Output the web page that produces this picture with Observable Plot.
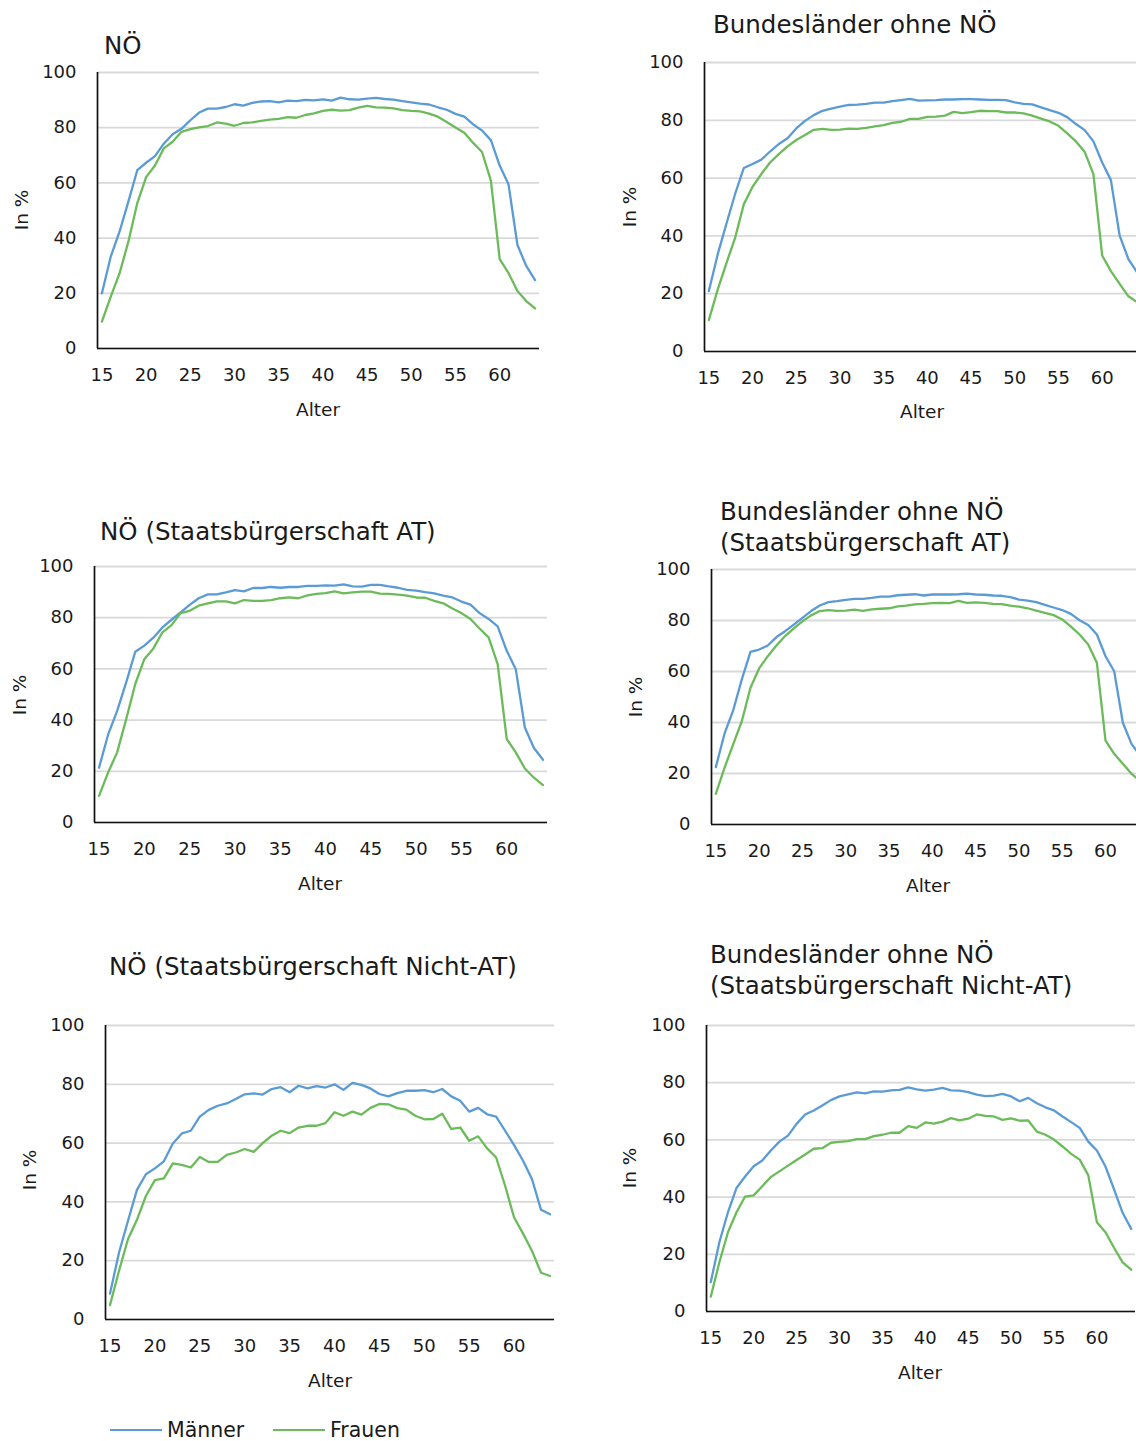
<!DOCTYPE html>
<html><head><meta charset="utf-8">
<script src="https://cdn.jsdelivr.net/npm/d3@7"></script>
<script src="https://cdn.jsdelivr.net/npm/@observablehq/plot@0.6"></script>
<style>
html,body{margin:0;padding:0;background:#fff;overflow:hidden;}
#root{position:relative;width:1136px;height:1441px;overflow:hidden;font-family:"DejaVu Sans",sans-serif;color:#1a1a1a;}
.t{position:absolute;white-space:nowrap;line-height:1;}
.panel{position:absolute;}
</style></head><body><div id="root"></div>
<script>
// ---- data ----
const ages = [15,16,17,18,19,20,21,22,23,24,25,26,27,28,29,30,31,32,33,34,35,36,37,38,39,40,41,42,43,44,45,46,47,48,49,50,51,52,53,54,55,56,57,58,59,60,61,62,63,64];
const seriesNames = ["Männer","Frauen"];
const seriesColors = ["#5B9BD5","#6CBB5A"];
const yTicks = [0,20,40,60,80,100];
const xTicks = [15,20,25,30,35,40,45,50,55,60];

const noeM = [20,33.3,42.4,53.3,64.6,67.3,69.7,74.2,77.6,79.6,82.7,85.5,86.9,86.9,87.5,88.5,88,89,89.5,89.6,89.2,89.8,89.6,90.1,89.9,90.3,89.8,90.9,90.3,90.2,90.5,90.8,90.4,90.2,89.6,89.2,88.7,88.4,87.4,86.5,85,84,81.2,79,75.5,66.3,59.4,37.6,29.9,24.8];
const noeF = [9.7,18.8,27.3,38.8,52.7,62.1,66.3,72.5,74.9,78.5,79.5,80.1,80.6,81.9,81.5,80.7,81.7,81.9,82.5,82.9,83.2,83.8,83.6,84.6,85.2,86.1,86.5,86.2,86.4,87.3,87.9,87.4,87.3,87,86.4,86.1,85.9,85.1,84,82.1,80.1,78.2,74.5,71.2,60.8,32.4,27.3,20.8,17.2,14.5];

const blM = [20.9,33.5,44.1,54.5,63.5,64.9,66.4,69.2,71.8,73.8,77.2,79.8,81.8,83.3,84,84.7,85.3,85.4,85.7,86.1,86.1,86.6,87,87.4,86.8,86.9,87,87.2,87.2,87.3,87.3,87.2,87.1,87.1,87,86.2,85.7,85.5,84.5,83.5,82.6,81.1,78.7,76.6,72.7,65.4,59.3,40.1,32,27.4];
const blF = [10.9,21.3,30.5,39.3,51,57,61.4,65.4,68.3,71,73.2,74.9,76.7,77,76.7,76.8,77.1,77,77.4,77.9,78.3,79.1,79.5,80.5,80.5,81.2,81.3,81.6,82.9,82.5,82.8,83.3,83.2,83.2,82.7,82.7,82.4,81.6,80.6,79.6,78.1,75.5,72.7,69.1,61.4,33.2,27.8,23.4,19.1,17.1];

const noeAtM = [21.4,34.3,43.6,54.7,66.7,69.1,72.2,76.2,79.2,82.1,85,87.6,89.1,89.1,89.9,90.8,90.3,91.6,91.6,92,91.7,92,92,92.4,92.4,92.6,92.5,93,92.2,92.1,92.8,92.8,92.2,91.7,90.9,90.6,90,89.5,88.6,87.9,86.3,85.1,81.8,79.5,76.6,67.1,59.9,37.1,29.1,24.5];
const noeAtF = [10.4,19.5,27.4,40.4,54.1,63.8,68,74.3,77.1,81.8,82.7,84.7,85.6,86.4,86.4,85.6,86.9,86.6,86.6,86.9,87.6,87.9,87.6,88.7,89.3,89.6,90.3,89.5,89.9,90.2,90.2,89.4,89.3,89,88.6,87.9,87.8,86.6,85.6,83.6,81.8,79.5,75.8,72.3,61.9,32.6,27.4,21.1,17.5,14.6];

const blAtM = [22.5,35.6,44.7,56.9,67.7,68.6,70.2,73.5,75.8,78.4,81,83.7,85.9,87.2,87.6,88.1,88.5,88.5,88.9,89.4,89.4,89.9,90.1,90.3,89.8,90.2,90.2,90.2,90.3,90.5,90.2,90.1,89.8,89.7,89.2,88.2,87.8,87.2,86.1,85.1,84.1,82.6,80.1,78.2,74.5,66,60.1,39.9,31.6,27];
const blAtF = [12,22.2,31.4,40.5,53.6,61.2,66,70.2,73.9,76.9,79.7,82,83.7,84.1,83.8,83.9,84.3,83.8,84.4,84.6,84.8,85.5,85.8,86.3,86.5,86.8,86.9,86.8,87.7,86.9,87.1,86.9,86.5,86.4,85.8,85.4,84.8,83.9,83,82.1,80.4,77.6,74.5,70.6,63.4,32.9,27.7,23.8,19.9,17];

const noeNatM = [8.8,22.7,33.5,44.1,49.4,51.4,53.8,59.9,63.3,64.2,69,71.3,72.7,73.5,75,76.6,76.9,76.5,78.4,79,77.3,79.5,78.6,79.4,78.9,80,78.1,80.5,79.8,78.6,76.7,75.9,77,77.8,77.8,78,77.3,78.4,75.9,74.4,70.7,72,69.8,69,64.2,59.3,54,47.7,37.3,35.8];
const noeNatF = [4.9,16.5,27.3,33.9,42,47.4,48,53.1,52.6,51.7,55.3,53.6,53.6,56,56.8,58,57,60,62.5,64.2,63.4,65.3,65.9,65.9,66.8,70.5,69.3,70.7,69.7,72,73.3,73.2,71.9,71.4,69.3,68.1,68.2,70,64.8,65.3,60.8,62.3,58.2,55.1,45.5,34.7,29.2,23.3,15.9,14.8];

const blNatM = [10.3,24.2,34.7,43.2,47.2,50.8,52.8,56.3,59.4,61.5,65.6,68.9,70.3,72,73.9,75.2,75.9,76.6,76.3,77,76.9,77.3,77.5,78.4,77.7,77.2,77.6,78.2,77.3,77.2,76.7,75.8,75.3,75.5,76.1,75.2,73.5,74.7,72.8,71.4,70.3,68.2,66.2,64.2,59.4,56.3,50.7,42.7,34.5,28.9];
const blNatF = [5.2,17.2,27.7,34.7,40.2,40.6,43.8,47,49,51,53,54.9,56.9,57.1,59,59.3,59.6,60.3,60.3,61.3,61.8,62.5,62.5,64.8,64.2,66.1,65.7,66.4,67.6,66.8,67.4,68.9,68.4,68.2,67,67.5,66.7,66.8,62.9,61.8,60.1,57.7,55.1,53.1,47.6,31.2,27.7,22.3,17.2,14.6];

// ---- layout ----
const root = document.getElementById("root");
const FONT = '"DejaVu Sans", sans-serif';
const xDomain = [14.5, 64.5];

function text(str, {left, cx, cy, size, rotate = false}) {
  const d = document.createElement("div");
  d.className = "t";
  d.textContent = str;
  d.style.fontSize = size + "px";
  if (rotate) {
    d.style.left = cx + "px"; d.style.top = cy + "px";
    d.style.transform = "translate(-50%,-50%) rotate(-90deg)";
  } else if (left != null) {
    d.style.left = left + "px"; d.style.top = cy + "px";
    d.style.transform = "translateY(-50%)";
  } else {
    d.style.left = cx + "px"; d.style.top = cy + "px";
    d.style.transform = "translate(-50%,-50%)";
  }
  root.appendChild(d);
}

function panel(cfg) {
  const mL = 90, mR = 4, mT = 12, mB = 70;
  const W = Math.round(cfg.x1 - cfg.x0 + mL + mR);
  const H = Math.round(cfg.y1 - cfg.y0 + mT + mB);
  const data = ages.flatMap((a, i) => [
    {age: a, v: cfg.m[i], s: seriesNames[0]},
    {age: a, v: cfg.f[i], s: seriesNames[1]}
  ]);
  const svg = Plot.plot({
    width: W, height: H,
    marginLeft: mL, marginRight: mR, marginTop: mT, marginBottom: mB,
    style: {fontFamily: FONT, fontSize: "18px", color: "#1a1a1a", background: "transparent", maxWidth: "none", overflow: "visible"},
    x: {type: "linear", domain: xDomain},
    y: {domain: [0, 100]},
    color: {domain: seriesNames, range: seriesColors},
    marks: [
      Plot.gridY(yTicks, {stroke: "#d9d9d9", strokeOpacity: 1, strokeWidth: 1.8}),
      Plot.axisY(yTicks, {tickSize: 0, tickPadding: 21, label: null, fontSize: 18}),
      Plot.axisX(xTicks, {tickSize: 0, tickPadding: 20, label: null, fontSize: 18}),
      Plot.line(data, {x: "age", y: "v", stroke: "s", z: "s", strokeWidth: 2.3, strokeLinejoin: "round"}),
      Plot.ruleX([xDomain[0]], {stroke: "#111", strokeWidth: 1.7}),
      Plot.ruleY([0], {stroke: "#111", strokeWidth: 1.7})
    ]
  });
  svg.style.maxWidth = "none";
  const wrap = document.createElement("div");
  wrap.className = "panel";
  wrap.style.left = (cfg.x0 - mL) + "px";
  wrap.style.top = (cfg.y0 - mT) + "px";
  wrap.appendChild(svg);
  root.appendChild(wrap);

  cfg.titles.forEach(t => text(t.s, {left: t.left, cy: t.cy, size: 24.5}));
  text("Alter", {cx: cfg.alter[0], cy: cfg.alter[1], size: 18.5});
  text("In %", {cx: cfg.inp[0], cy: cfg.inp[1], size: 18.5, rotate: true});
}

const panels = [
  {x0: 97, x1: 539, y0: 72, y1: 348, m: noeM, f: noeF,
   titles: [{s: "NÖ", left: 104, cy: 46}], alter: [318, 410], inp: [22, 210]},
  {x0: 704, x1: 1141, y0: 62, y1: 351, m: blM, f: blF,
   titles: [{s: "Bundesländer ohne NÖ", left: 713, cy: 25}], alter: [922, 412], inp: [630, 207]},
  {x0: 93.5, x1: 546, y0: 566, y1: 822, m: noeAtM, f: noeAtF,
   titles: [{s: "NÖ (Staatsbürgerschaft AT)", left: 100, cy: 532}], alter: [320, 884], inp: [20, 695]},
  {x0: 711, x1: 1144, y0: 568.5, y1: 823.5, m: blAtM, f: blAtF,
   titles: [{s: "Bundesländer ohne NÖ", left: 720, cy: 512}, {s: "(Staatsbürgerschaft AT)", left: 720, cy: 543}], alter: [928, 886], inp: [636, 697]},
  {x0: 105, x1: 554, y0: 1025, y1: 1318.5, m: noeNatM, f: noeNatF,
   titles: [{s: "NÖ (Staatsbürgerschaft Nicht-AT)", left: 109, cy: 967}], alter: [330, 1381], inp: [30, 1170]},
  {x0: 706, x1: 1134.5, y0: 1025, y1: 1311, m: blNatM, f: blNatF,
   titles: [{s: "Bundesländer ohne NÖ", left: 710, cy: 955}, {s: "(Staatsbürgerschaft Nicht-AT)", left: 710, cy: 986}], alter: [920, 1373], inp: [630, 1168]}
];
panels.forEach(panel);

// ---- legend ----
const legendItems = [
  {name: seriesNames[0], color: seriesColors[0], x: 110},
  {name: seriesNames[1], color: seriesColors[1], x: 273}
];
legendItems.forEach(it => {
  const ln = document.createElement("div");
  ln.style.cssText = `position:absolute;left:${it.x}px;top:1429px;width:52px;height:0;border-top:2.3px solid ${it.color};`;
  root.appendChild(ln);
  text(it.name, {left: it.x + 57, cy: 1430, size: 20.5});
});
</script></body></html>
